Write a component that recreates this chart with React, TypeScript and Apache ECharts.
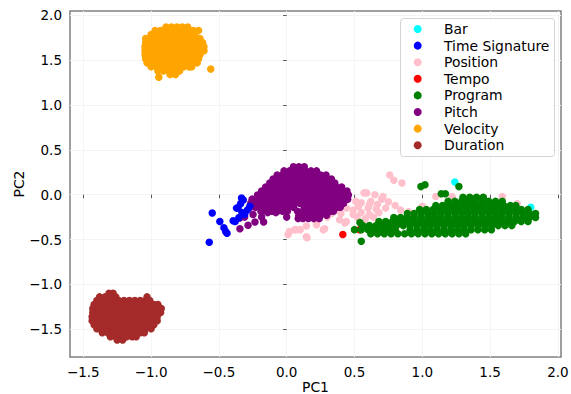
import React, { useEffect, useRef } from 'react';
import * as echarts from 'echarts';

type Row = [number, number[]];

const seriesNames = ['Bar', 'Time Signature', 'Position', 'Tempo', 'Program', 'Pitch', 'Velocity', 'Duration'];
const seriesColors = ['#00ffff', '#0000ff', '#ffc0cb', '#ff0000', '#008000', '#800080', '#ffa500', '#a52a2a'];

const xTicks = [-1.5, -1.0, -0.5, 0.0, 0.5, 1.0, 1.5, 2.0];
const yTicks = [-1.5, -1.0, -0.5, 0.0, 0.5, 1.0, 1.5, 2.0];
const X_MIN = -1.598, X_MAX = 2.023, Y_MIN = -1.81, Y_MAX = 2.048;

const barPoints: number[][] = [[1.24, 0.14], [1.80, -0.14]];

const timeSignaturePoints: number[][] = [
  [-0.571, -0.53], [-0.549, -0.204], [-0.493, -0.30], [-0.463, -0.37], [-0.45, -0.41], [-0.44, -0.43],
  [-0.395, -0.29], [-0.37, -0.15], [-0.333, -0.037], [-0.358, -0.148], [-0.31, -0.22], [-0.272, -0.13],
  [-0.353, -0.256], [-0.33, -0.20], [-0.29, -0.17], [-0.38, -0.30], [-0.34, -0.10], [-0.32, -0.06],
];

const positionPoints: number[][] = [
  [0.76, 0.22], [0.79, 0.16], [0.85, 0.13], [0.59, 0.02], [0.57, 0.02], [0.65, 0.0], [0.71, -0.02],
  [0.51, -0.075], [0.55, -0.09], [0.62, -0.075], [0.61, -0.11], [0.67, -0.11], [0.73, -0.15], [0.44, -0.15],
  [0.49, -0.17], [0.37, -0.17], [0.55, -0.20], [0.61, -0.22], [0.68, -0.20], [0.39, -0.28], [0.44, -0.30],
  [0.43, -0.315], [0.49, -0.22], [0.40, -0.21], [0.52, -0.25], [0.58, -0.27], [0.64, -0.25], [0.66, -0.16],
  [0.60, -0.15], [0.53, -0.13], [0.70, -0.05], [0.75, -0.08], [0.80, -0.12], [0.84, -0.17], [0.90, -0.19],
  [1.00, -0.13], [1.10, -0.02], [1.22, -0.02], [1.30, -0.08], [1.45, -0.03], [1.52, -0.11], [1.59, -0.02],
  [1.70, -0.10], [0.22, -0.315], [0.22, -0.335], [0.27, -0.39], [0.28, -0.38], [0.145, -0.35], [0.145, -0.47],
  [0.15, -0.48], [0.10, -0.39], [0.07, -0.39], [0.06, -0.39], [0.02, -0.41], [0.01, -0.445], [0.30, -0.25],
  [0.33, -0.21],
];

const tempoPoints: number[][] = [[0.414, -0.445], [0.537, -0.39], [0.60, -0.38]];

const programRows: Row[] = [
  [0.11, [1.02]],
  [0.09, [0.99, 1.27]],
  [0.01, [1.14, 1.17]],
  [-0.03, [1.30, 1.35, 1.40, 1.45]],
  [-0.075, [1.19, 1.24, 1.29, 1.34, 1.39, 1.44, 1.49, 1.54, 1.59]],
  [-0.12, [1.10, 1.15, 1.20, 1.25, 1.30, 1.35, 1.40, 1.45, 1.50, 1.55, 1.60, 1.65, 1.69]],
  [-0.165, [0.98, 1.03, 1.08, 1.13, 1.18, 1.23, 1.28, 1.33, 1.38, 1.43, 1.48, 1.53, 1.58, 1.63, 1.68, 1.73, 1.78]],
  [-0.21, [0.89, 0.94, 0.99, 1.04, 1.09, 1.14, 1.19, 1.24, 1.29, 1.34, 1.39, 1.44, 1.49, 1.54, 1.59, 1.64, 1.69, 1.74, 1.79, 1.835]],
  [-0.255, [0.79, 0.84, 0.89, 0.94, 0.99, 1.04, 1.09, 1.14, 1.19, 1.24, 1.29, 1.34, 1.39, 1.44, 1.49, 1.54, 1.59, 1.64, 1.69, 1.74, 1.79, 1.835]],
  [-0.30, [0.68, 0.73, 0.78, 0.83, 0.88, 0.93, 0.98, 1.03, 1.08, 1.13, 1.18, 1.23, 1.28, 1.33, 1.38, 1.43, 1.48, 1.53, 1.58, 1.63, 1.68, 1.73, 1.78]],
  [-0.31, [0.54]],
  [-0.345, [0.56, 0.61, 0.66, 0.71, 0.76, 0.81, 0.86, 0.91, 0.96, 1.01, 1.06, 1.11, 1.16, 1.21, 1.26, 1.31, 1.36, 1.41, 1.46, 1.51, 1.56, 1.61, 1.66]],
  [-0.39, [0.50, 0.55, 0.60, 0.65, 0.70, 0.75, 0.80, 0.91, 0.96, 1.01, 1.06, 1.11, 1.16, 1.21, 1.26, 1.31, 1.36, 1.41, 1.46, 1.51]],
  [-0.435, [0.62, 0.67, 0.72, 0.77, 0.82, 0.87, 0.92, 0.97, 1.02, 1.07, 1.12, 1.17, 1.22, 1.27, 1.32]],
  [-0.52, [0.55]],
];

const pitchRows: Row[] = [
  [0.31, [0.05, 0.09, 0.13]],
  [0.265, [-0.02, 0.02, 0.06, 0.10, 0.14, 0.18, 0.22]],
  [0.22, [-0.07, -0.03, 0.01, 0.05, 0.09, 0.13, 0.17, 0.21, 0.25, 0.29]],
  [0.175, [-0.10, -0.06, -0.02, 0.02, 0.06, 0.10, 0.14, 0.18, 0.22, 0.26, 0.30, 0.33]],
  [0.13, [-0.125, -0.085, -0.045, -0.005, 0.035, 0.075, 0.115, 0.155, 0.195, 0.235, 0.275, 0.315, 0.355]],
  [0.085, [-0.155, -0.115, -0.075, -0.035, 0.005, 0.045, 0.085, 0.125, 0.165, 0.205, 0.245, 0.285, 0.325, 0.365, 0.405]],
  [0.04, [-0.185, -0.145, -0.105, -0.065, -0.025, 0.015, 0.055, 0.095, 0.135, 0.175, 0.215, 0.255, 0.295, 0.335, 0.375, 0.415, 0.445]],
  [-0.005, [-0.215, -0.175, -0.135, -0.095, -0.055, -0.015, 0.025, 0.065, 0.105, 0.145, 0.185, 0.225, 0.265, 0.305, 0.345, 0.385, 0.425, 0.455]],
  [-0.05, [-0.255, -0.215, -0.175, -0.135, -0.095, -0.055, -0.015, 0.025, 0.065, 0.105, 0.145, 0.185, 0.225, 0.265, 0.305, 0.345, 0.385, 0.425, 0.45]],
  [-0.095, [-0.265, -0.225, -0.185, -0.145, -0.105, -0.065, -0.025, 0.015, 0.055, 0.095, 0.135, 0.175, 0.215, 0.255, 0.295, 0.335, 0.375, 0.42]],
  [-0.14, [-0.27, -0.23, -0.19, -0.15, -0.11, -0.07, -0.03, 0.01, 0.05, 0.13, 0.17, 0.21, 0.25, 0.29, 0.33, 0.37, 0.395]],
  [-0.185, [-0.19, -0.15, -0.11, -0.07, -0.03, 0.005, 0.08, 0.12, 0.16, 0.20, 0.24, 0.28, 0.32, 0.345]],
  [-0.20, [-0.14, -0.08]],
  [-0.22, [-0.248]],
  [-0.23, [0.09, 0.13, 0.17, 0.21, 0.25, 0.295]],
  [-0.25, [-0.31, -0.185, 0.0]],
  [-0.26, [-0.346]],
  [-0.265, [0.085, 0.12, 0.16, 0.20, 0.24]],
  [-0.305, [-0.234, -0.17]],
  [-0.34, [-0.285]],
  [-0.38, [-0.345]],
];

const velocityRows: Row[] = [
  [1.87, [-0.89, -0.85, -0.81, -0.77, -0.73]],
  [1.83, [-0.97, -0.93, -0.89, -0.85, -0.81, -0.77, -0.73, -0.69, -0.65]],
  [1.785, [-1.00, -0.96, -0.92, -0.88, -0.84, -0.80, -0.76, -0.72, -0.68]],
  [1.74, [-1.04, -1.00, -0.96, -0.92, -0.88, -0.84, -0.80, -0.76, -0.72, -0.68, -0.64]],
  [1.695, [-1.04, -1.00, -0.96, -0.92, -0.88, -0.84, -0.80, -0.76, -0.72, -0.68, -0.64, -0.62]],
  [1.65, [-1.045, -1.005, -0.965, -0.925, -0.885, -0.845, -0.805, -0.765, -0.725, -0.685, -0.645, -0.61]],
  [1.605, [-1.045, -1.005, -0.965, -0.925, -0.885, -0.845, -0.805, -0.765, -0.725, -0.685, -0.645, -0.61]],
  [1.56, [-1.045, -1.005, -0.965, -0.925, -0.885, -0.845, -0.805, -0.765, -0.725, -0.685, -0.64]],
  [1.515, [-1.04, -1.00, -0.96, -0.92, -0.88, -0.84, -0.80, -0.76, -0.72, -0.68, -0.65]],
  [1.47, [-1.03, -0.99, -0.95, -0.91, -0.87, -0.83, -0.79, -0.75, -0.71, -0.66]],
  [1.425, [-1.00, -0.96, -0.92, -0.88, -0.84, -0.80, -0.76, -0.72, -0.70]],
  [1.40, [-0.56]],
  [1.38, [-0.95, -0.91, -0.87, -0.83, -0.79]],
  [1.34, [-0.86, -0.82]],
  [1.31, [-0.943]],
];

const durationRows: Row[] = [
  [-1.10, [-1.31, -1.28]],
  [-1.14, [-1.38, -1.34, -1.30, -1.26, -1.03]],
  [-1.18, [-1.40, -1.36, -1.32, -1.28, -1.24, -1.20, -1.16, -1.12, -1.08, -1.04, -1.01]],
  [-1.225, [-1.42, -1.38, -1.34, -1.30, -1.26, -1.22, -1.18, -1.14, -1.10, -1.06, -1.02, -0.98, -0.95]],
  [-1.27, [-1.43, -1.39, -1.35, -1.31, -1.27, -1.23, -1.19, -1.15, -1.11, -1.07, -1.03, -0.99, -0.95, -0.925]],
  [-1.315, [-1.43, -1.39, -1.35, -1.31, -1.27, -1.23, -1.19, -1.15, -1.11, -1.07, -1.03, -0.99, -0.95, -0.93]],
  [-1.36, [-1.435, -1.395, -1.355, -1.315, -1.275, -1.235, -1.195, -1.155, -1.115, -1.075, -1.035, -0.995, -0.955]],
  [-1.405, [-1.435, -1.395, -1.355, -1.315, -1.275, -1.235, -1.195, -1.155, -1.115, -1.075, -1.035, -0.995, -0.955]],
  [-1.45, [-1.42, -1.38, -1.34, -1.30, -1.26, -1.22, -1.18, -1.14, -1.10, -1.06, -1.02, -0.98]],
  [-1.495, [-1.40, -1.36, -1.32, -1.28, -1.24, -1.20, -1.16, -1.12, -1.08, -1.04, -1.00]],
  [-1.54, [-1.36, -1.32, -1.28, -1.24, -1.20, -1.16, -1.12, -1.08, -1.05]],
  [-1.585, [-1.30, -1.26, -1.22, -1.18, -1.14, -1.11]],
  [-1.62, [-1.25, -1.21]],
];

function fromRows(rows: Row[]): number[][] {
  const out: number[][] = [];
  rows.forEach(([y, xs]) => xs.forEach((x) => out.push([x, y])));
  return out;
}

const fmt = (v: number) => (v < 0 ? '\u2212' : '') + Math.abs(v).toFixed(1);

export default function App() {
  const ref = useRef<HTMLDivElement>(null);
  useEffect(() => {
    if (!ref.current) return;
    const chart = echarts.init(ref.current, undefined, { renderer: 'svg' });
    const dataSets = [
      barPoints,
      timeSignaturePoints,
      positionPoints,
      tempoPoints,
      fromRows(programRows),
      fromRows(pitchRows),
      fromRows(velocityRows),
      fromRows(durationRows),
    ];
    const font = 'DejaVu Sans';
    chart.setOption({
      animation: false,
      backgroundColor: '#ffffff',
      textStyle: { fontFamily: font },
      grid: {
        left: 70, top: 11, right: 10, bottom: 37,
        outerBoundsMode: 'none', containLabel: false,
        show: true, borderColor: '#808080', borderWidth: 1.5, backgroundColor: 'transparent',
      },
      xAxis: {
        type: 'value', min: X_MIN, max: X_MAX,
        name: 'PC1', nameLocation: 'middle', nameGap: 23, nameMoveOverlap: false,
        nameTextStyle: { fontSize: 13.9, color: '#000', fontFamily: font },
        axisLine: { show: false },
        axisTick: { show: true, length: 3.5, customValues: xTicks, lineStyle: { color: '#555', width: 1 } },
        axisLabel: { customValues: xTicks, formatter: fmt, fontSize: 13.5, color: '#000', margin: 8, fontFamily: font },
        splitLine: { show: true, lineStyle: { color: '#f4f4f4', width: 1 } },
      },
      yAxis: {
        type: 'value', min: Y_MIN, max: Y_MAX,
        name: 'PC2', nameLocation: 'middle', nameGap: 44, nameMoveOverlap: false,
        nameTextStyle: { fontSize: 13.9, color: '#000', fontFamily: font },
        axisLine: { show: false },
        axisTick: { show: true, length: 3.5, customValues: yTicks, lineStyle: { color: '#555', width: 1 } },
        axisLabel: { customValues: yTicks, formatter: fmt, fontSize: 13.5, color: '#000', margin: 8, fontFamily: font },
        splitLine: { show: true, lineStyle: { color: '#f4f4f4', width: 1 } },
      },
      legend: {
        orient: 'vertical', left: 413.7, top: 22, padding: 0,
        itemWidth: 8, itemHeight: 8, itemGap: 2.6, icon: 'circle',
        formatter: (name: string) => '{t|' + name + '}',
        textStyle: {
          fontSize: 13.9, color: '#000', lineHeight: 14, fontFamily: font,
          rich: { t: { fontSize: 13.9, color: '#000', lineHeight: 14, fontFamily: font, padding: [0, 0, 0, 17.3] } },
        },
        data: seriesNames, z: 5, selectedMode: false,
      },
      graphic: {
        elements: [
          {
            type: 'rect', left: 400, top: 18, z: 4,
            shape: { width: 154, height: 138, r: 3 },
            style: { fill: 'rgba(255,255,255,0.85)', stroke: '#d4d4d4', lineWidth: 1 },
          },
        ],
      },
      series: seriesNames.map((name, i) => ({
        type: 'scatter',
        name,
        data: dataSets[i],
        symbolSize: 7.5,
        itemStyle: { color: seriesColors[i], opacity: 1 },
        z: name === 'Time Signature' ? 3 : 2,
        silent: true,
        emphasis: { disabled: true },
      })),
    });
    return () => chart.dispose();
  }, []);
  return <div ref={ref} style={{ position: 'absolute', left: 0, top: 0, width: 571, height: 394 }} />;
}
